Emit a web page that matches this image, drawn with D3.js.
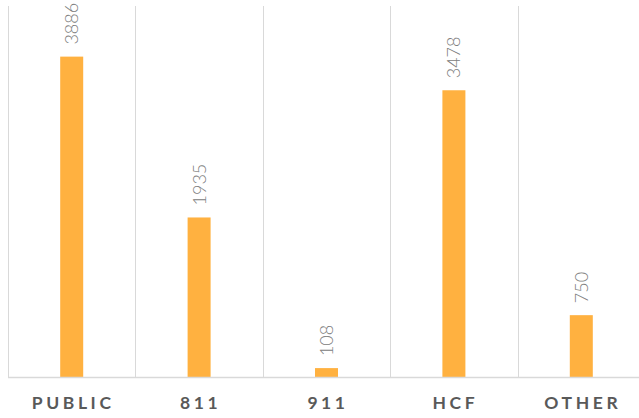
<!DOCTYPE html>
<html>
<head>
<meta charset="utf-8">
<script src="https://cdn.jsdelivr.net/npm/d3@7"></script>
<style>
  html, body { margin: 0; padding: 0; background: #fff; }
  svg { display: block; }
</style>
</head>
<body>
<svg id="chart" width="639" height="418"></svg>
<script>
// Call counts by source
const categories = ["PUBLIC", "811", "911", "HCF", "OTHER"];
const values = [3886, 1935, 108, 3478, 750];
const yMax = 4500;

const width = 639, height = 418;
const margin = { top: 6, right: -6, bottom: 41, left: 8 };

const svg = d3.select("#chart");

const x = d3.scaleBand()
  .domain(categories)
  .range([margin.left, width - margin.right])
  .paddingInner(0)
  .paddingOuter(0);

const y = d3.scaleLinear()
  .domain([0, yMax])
  .range([height - margin.bottom, margin.top]);

const barW = 23;

// vertical separators between categories
svg.append("g")
  .selectAll("line")
  .data(categories)
  .join("line")
  .attr("x1", d => Math.round(x(d)) + 0.5)
  .attr("x2", d => Math.round(x(d)) + 0.5)
  .attr("y1", y(yMax))
  .attr("y2", y(0))
  .attr("stroke", "#d9d9d9")
  .attr("stroke-width", 1);

// bars
svg.append("g")
  .selectAll("rect")
  .data(values)
  .join("rect")
  .attr("x", (d, i) => x(categories[i]) + x.bandwidth() / 2 - barW / 2)
  .attr("y", d => y(d))
  .attr("width", barW)
  .attr("height", d => y(0) - y(d))
  .attr("fill", "#ffb140");

// baseline
svg.append("line")
  .attr("x1", margin.left)
  .attr("x2", width)
  .attr("y1", y(0) + 0.5)
  .attr("y2", y(0) + 0.5)
  .attr("stroke", "#d9d9d9")
  .attr("stroke-width", 1.5);

// value labels, rotated
svg.append("g")
  .selectAll("text")
  .data(values)
  .join("text")
  .attr("transform", (d, i) => {
    const cx = x(categories[i]) + x.bandwidth() / 2;
    return `translate(${cx + 6.5},${y(d) - 12}) rotate(-90)`;
  })
  .attr("text-anchor", "start")
  .attr("font-family", "Lato, 'Open Sans', sans-serif")
  .attr("font-weight", 300)
  .attr("font-size", 18)
  .attr("fill", "#808080")
  .text(d => d);

// category axis labels
svg.append("g")
  .selectAll("text")
  .data(categories)
  .join("text")
  .attr("x", d => x(d) + x.bandwidth() / 2 + 1.5)
  .attr("y", 409)
  .attr("text-anchor", "middle")
  .attr("font-family", "Lato, 'Open Sans', sans-serif")
  .attr("font-weight", 700)
  .attr("font-size", 17.5)
  .attr("letter-spacing", 3.6)
  .attr("fill", "#595959")
  .text(d => d);
</script>
</body>
</html>
